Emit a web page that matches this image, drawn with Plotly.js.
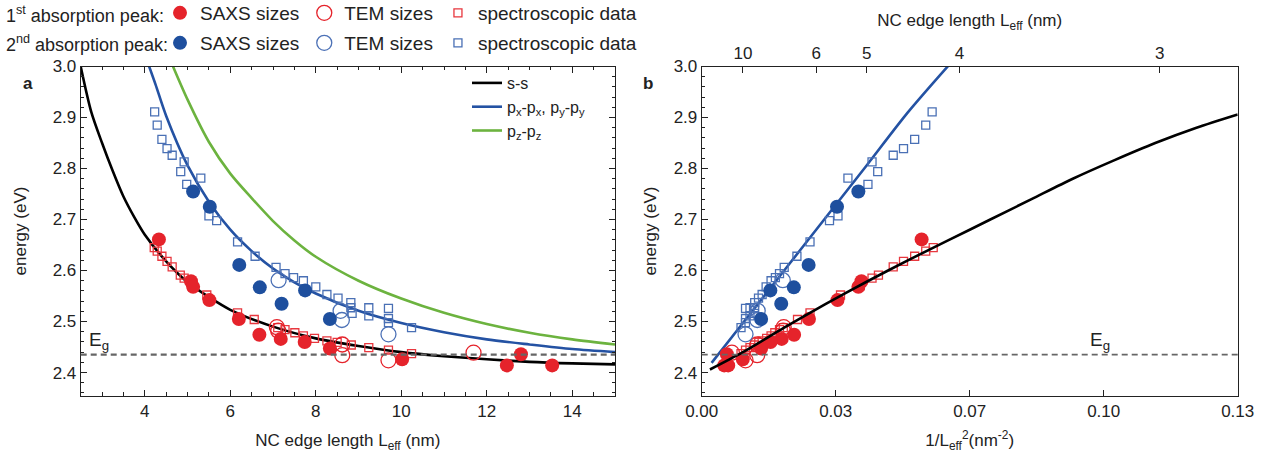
<!DOCTYPE html>
<html><head><meta charset="utf-8">
<script src="https://cdn.plot.ly/plotly-3.0.1.min.js"></script>
<style>html,body{margin:0;padding:0;background:#fff}#chart{width:1273px;height:465px}</style>
</head><body><div id="chart"></div>
<script>
// ---------- data ----------
// 1st absorption peak (red)
const redSaxsL = [4.33, 5.08, 5.13, 5.51, 6.20, 6.68, 7.18, 7.74, 8.33, 10.02, 12.47, 12.80, 13.53];
const redSaxsE = [2.661, 2.579, 2.568, 2.542, 2.505, 2.474, 2.466, 2.460, 2.447, 2.426, 2.414, 2.436, 2.414];
const redTemL = [7.09, 7.12, 8.62, 8.62, 9.70, 11.69];
const redTemE = [2.489, 2.482, 2.455, 2.434, 2.424, 2.439];
const redSpecL = [4.22, 4.29, 4.40, 4.52, 4.64, 4.83, 4.92, 5.10, 5.45, 6.17, 6.56, 7.11, 7.28, 7.51, 7.71, 7.97, 8.26, 8.50, 8.83, 9.24, 9.70, 10.24];
const redSpecE = [2.645, 2.638, 2.628, 2.618, 2.607, 2.591, 2.585, 2.570, 2.552, 2.517, 2.504, 2.488, 2.484, 2.478, 2.472, 2.467, 2.462, 2.459, 2.454, 2.449, 2.444, 2.437];
// 2nd absorption peak (blue)
const blueSaxsL = [5.13, 5.52, 6.21, 6.69, 7.20, 7.75, 8.33];
const blueSaxsE = [2.755, 2.725, 2.611, 2.567, 2.535, 2.561, 2.505];
const blueTemL = [7.13, 8.58, 8.61, 9.70];
const blueTemE = [2.581, 2.521, 2.503, 2.475];
const blueSpecL = [4.23, 4.29, 4.40, 4.52, 4.64, 4.84, 4.92, 4.98, 5.31, 5.50, 5.68, 6.17, 6.58, 7.07, 7.28, 7.48, 7.71, 8.00, 8.26, 8.52, 8.82, 8.82, 8.85, 9.24, 9.24, 9.70, 9.70, 9.70, 10.24];
const blueSpecE = [2.911, 2.885, 2.857, 2.839, 2.826, 2.794, 2.813, 2.769, 2.781, 2.707, 2.698, 2.656, 2.628, 2.606, 2.594, 2.586, 2.580, 2.568, 2.553, 2.546, 2.537, 2.527, 2.516, 2.527, 2.511, 2.526, 2.506, 2.498, 2.488];
// model curves, panel a (energy vs edge length)
const ssL  = [2.5, 2.75, 3.0, 3.25, 3.5, 3.75, 4.0, 4.5, 5.0, 5.5, 6.0, 7.0, 8.0, 9.0, 10.0, 11.0, 12.0, 13.0, 14.0, 15.0];
const ssE  = [3.0, 2.91, 2.85, 2.795, 2.745, 2.705, 2.670, 2.618, 2.577, 2.548, 2.523, 2.490, 2.467, 2.452, 2.440, 2.432, 2.426, 2.421, 2.418, 2.416];
const pxyL = [4.08, 4.25, 4.5, 5.0, 5.5, 6.0, 6.5, 7.0, 7.5, 8.0, 9.0, 10.0, 11.0, 12.0, 13.0, 14.0, 15.0];
const pxyE = [3.005, 2.965, 2.903, 2.806, 2.735, 2.680, 2.638, 2.604, 2.577, 2.555, 2.521, 2.497, 2.479, 2.465, 2.455, 2.446, 2.440];
const pzL  = [4.66, 5.0, 5.5, 6.0, 6.5, 7.0, 7.5, 8.0, 9.0, 10.0, 11.0, 12.0, 13.0, 14.0, 15.0];
const pzE  = [3.0, 2.935, 2.852, 2.790, 2.742, 2.697, 2.659, 2.627, 2.580, 2.545, 2.517, 2.495, 2.478, 2.465, 2.455];
// model curves, panel b (energy vs 1/L^2)
const ssInvL2b  = [0.002, 0.01, 0.02, 0.03, 0.04, 0.05, 0.06, 0.07, 0.08, 0.09, 0.10, 0.11, 0.12, 0.13];
const ssEb      = [2.406, 2.440, 2.488, 2.534, 2.578, 2.620, 2.660, 2.700, 2.740, 2.780, 2.816, 2.850, 2.880, 2.906];
const pxyInvL2b = [0.0024, 0.01, 0.02, 0.03, 0.04, 0.05, 0.0602];
const pxyEb     = [2.419, 2.497, 2.600, 2.703, 2.806, 2.910, 3.005];
// band gap
const EG = 2.435;
// tick labels
const bottomTickVals = [0, 0.0325, 0.065, 0.0975, 0.13];
const bottomTickText = ['0.00', '0.03', '0.07', '0.10', '0.13'];
const topTickL = [10, 6, 5, 4, 3];

// ---------- drawing ----------
const inv2 = a => a.map(v => 1 / (v * v));
const RED = '#e5232b', REDSQ = '#e8373e', BLUED = '#1e4f9e', BLUEO = '#4c71b6', BLUESQ = '#4a70b5';
const BLUEL = '#2452a3', GREEN = '#6cb33f';
const FONT = 'Liberation Sans, Arial, sans-serif';

const traces = [];
function line(x, y, color, name, xa, ya, show) {
  traces.push({x, y, type: 'scatter', mode: 'lines', name, xaxis: xa, yaxis: ya,
    line: {color, width: 2.6, shape: 'spline', smoothing: 0.8},
    showlegend: show, legend: 'legend3', hoverinfo: 'skip'});
}
line(ssL, ssE, '#000', 's-s', 'x', 'y', true);
line(pxyL, pxyE, BLUEL, 'p<sub>x</sub>-p<sub>x</sub>, p<sub>y</sub>-p<sub>y</sub>', 'x', 'y', true);
line(pzL, pzE, GREEN, 'p<sub>z</sub>-p<sub>z</sub>', 'x', 'y', true);
// panel b curves: the s-s curve is put on the top (L) axis, which shares the bottom axis range
line(ssInvL2b, ssEb, '#000', 's-s', 'x3', 'y2', false);
line(pxyInvL2b, pxyEb, BLUEL, 'pxy', 'x2', 'y2', false);

function pts(L, E, symbol, color, size, lw, name, legend, panelB) {
  traces.push({x: panelB ? inv2(L) : L, y: E, type: 'scatter', mode: 'markers', name,
    xaxis: panelB ? 'x2' : 'x', yaxis: panelB ? 'y2' : 'y',
    marker: {symbol, color, size, line: {color, width: lw}},
    showlegend: !panelB, legend, hoverinfo: 'skip'});
}
[false, true].forEach(b => {
  pts(redSpecL, redSpecE, 'square-open', REDSQ, 8, 1.3, 'spectroscopic data', 'legend', b);
  pts(blueSpecL, blueSpecE, 'square-open', BLUESQ, 8, 1.3, 'spectroscopic data', 'legend2', b);
  pts(redTemL, redTemE, 'circle-open', RED, 15, 1.3, 'TEM sizes', 'legend', b);
  pts(blueTemL, blueTemE, 'circle-open', BLUEO, 15, 1.3, 'TEM sizes', 'legend2', b);
  pts(redSaxsL, redSaxsE, 'circle', RED, 14, 0, 'SAXS sizes', 'legend', b);
  pts(blueSaxsL, blueSaxsE, 'circle', BLUED, 14, 0, 'SAXS sizes', 'legend2', b);
});

const W = 1273, H = 465;
const yDom = [(H - 395.5) / H, (H - 66.5) / H];
const tickFont = {family: FONT, size: 17, color: '#222'};
const titleFont = {family: FONT, size: 17, color: '#222'};
const common = {showgrid: false, zeroline: false, showline: true, linecolor: '#222', linewidth: 1,
  ticks: 'inside', ticklen: 6, tickcolor: '#222', tickwidth: 1, tickfont: tickFont};
function yAxis(extra, standoff) {
  return Object.assign({}, common, {range: [2.355, 3.0], dtick: 0.1, tick0: 0, tickformat: '.1f',
    minor: {dtick: 0.02, ticks: 'inside', ticklen: 3.5, tickcolor: '#222'},
    title: {text: 'energy (eV)', font: titleFont, standoff}}, extra);
}
const legendCommon = {xanchor: 'left', yanchor: 'top', orientation: 'h', bgcolor: 'rgba(0,0,0,0)',
  font: {size: 19, color: '#222'}, itemclick: false, traceorder: 'normal'};

const layout = {
  width: W, height: H, margin: {l: 0, r: 0, t: 0, b: 0, autoexpand: false},
  paper_bgcolor: '#fff', plot_bgcolor: '#fff', font: {family: FONT, color: '#222'},
  xaxis: Object.assign({}, common, {domain: [80.7 / W, 615 / W], range: [2.5, 15], dtick: 2, tick0: 0,
    mirror: 'allticks', anchor: 'y',
    minor: {dtick: 0.5, ticks: 'inside', ticklen: 3.5, tickcolor: '#222'},
    title: {text: 'NC edge length L<sub>eff</sub> (nm)', font: titleFont, standoff: 14}}),
  yaxis: yAxis({domain: yDom, anchor: 'x', mirror: 'allticks'}, 21),
  xaxis2: Object.assign({}, common, {domain: [701.7 / W, 1237.7 / W], range: [0, 0.13], anchor: 'y2',
    tickmode: 'array', tickvals: bottomTickVals, ticktext: bottomTickText,
    title: {text: '1/L<sub>eff</sub><sup>2</sup>(nm<sup>-2</sup>)', font: titleFont, standoff: 14}}),
  xaxis3: Object.assign({}, common, {overlaying: 'x2', side: 'top', anchor: 'y2', range: [0, 0.13],
    tickmode: 'array', tickvals: inv2(topTickL), ticktext: topTickL.map(String),
    title: {text: 'NC edge length L<sub>eff</sub> (nm)', font: titleFont, standoff: 12}}),
  yaxis2: yAxis({domain: yDom, anchor: 'x2', mirror: true}, 12),
  shapes: [
    {type: 'line', xref: 'x domain', yref: 'y', x0: 0, x1: 1, y0: EG, y1: EG, line: {color: '#666', width: 2.2, dash: '6px,4px'}},
    {type: 'line', xref: 'x2 domain', yref: 'y2', x0: 0, x1: 1, y0: EG, y1: EG, line: {color: '#666', width: 1.8, dash: '6px,4px'}}
  ],
  annotations: [
    {text: '1<sup>st</sup> absorption peak:', xref: 'paper', yref: 'paper', x: 4 / W, y: 1 - 14 / H,
      xanchor: 'left', yanchor: 'middle', showarrow: false, font: {size: 18, color: '#222'}},
    {text: '2<sup>nd</sup> absorption peak:', xref: 'paper', yref: 'paper', x: 4 / W, y: 1 - 44 / H,
      xanchor: 'left', yanchor: 'middle', showarrow: false, font: {size: 18, color: '#222'}},
    {text: '<b>a</b>', xref: 'paper', yref: 'paper', x: 21 / W, y: 1 - 72 / H, showarrow: false, font: {size: 17, color: '#222'}},
    {text: '<b>b</b>', xref: 'paper', yref: 'paper', x: 648 / W, y: 1 - 72 / H, showarrow: false, font: {size: 17, color: '#222'}},
    {text: 'E<sub>g</sub>', xref: 'x', yref: 'y', x: 2.92, y: 2.462, showarrow: false, font: {size: 19, color: '#222'}},
    {text: 'E<sub>g</sub>', xref: 'x2', yref: 'y2', x: 0.0966, y: 2.462, showarrow: false, font: {size: 19, color: '#222'}}
  ],
  legend: Object.assign({x: 160 / W, y: 1 + 6 / H}, legendCommon),
  legend2: Object.assign({x: 160 / W, y: 1 - 24 / H}, legendCommon),
  legend3: {x: 467 / W, y: 1 - 66 / H, xanchor: 'left', yanchor: 'top', orientation: 'v', bgcolor: 'rgba(0,0,0,0)',
    font: {size: 16, color: '#222'}, tracegroupgap: 0, itemclick: false}
};
// legend order: SAXS, TEM, spectroscopic
const order = {'SAXS sizes': 1, 'TEM sizes': 2, 'spectroscopic data': 3};
traces.filter(t => t.showlegend && order[t.name]).forEach(t => { t.legendrank = order[t.name]; });
Plotly.newPlot('chart', traces, layout, {staticPlot: true});
</script></body></html>
